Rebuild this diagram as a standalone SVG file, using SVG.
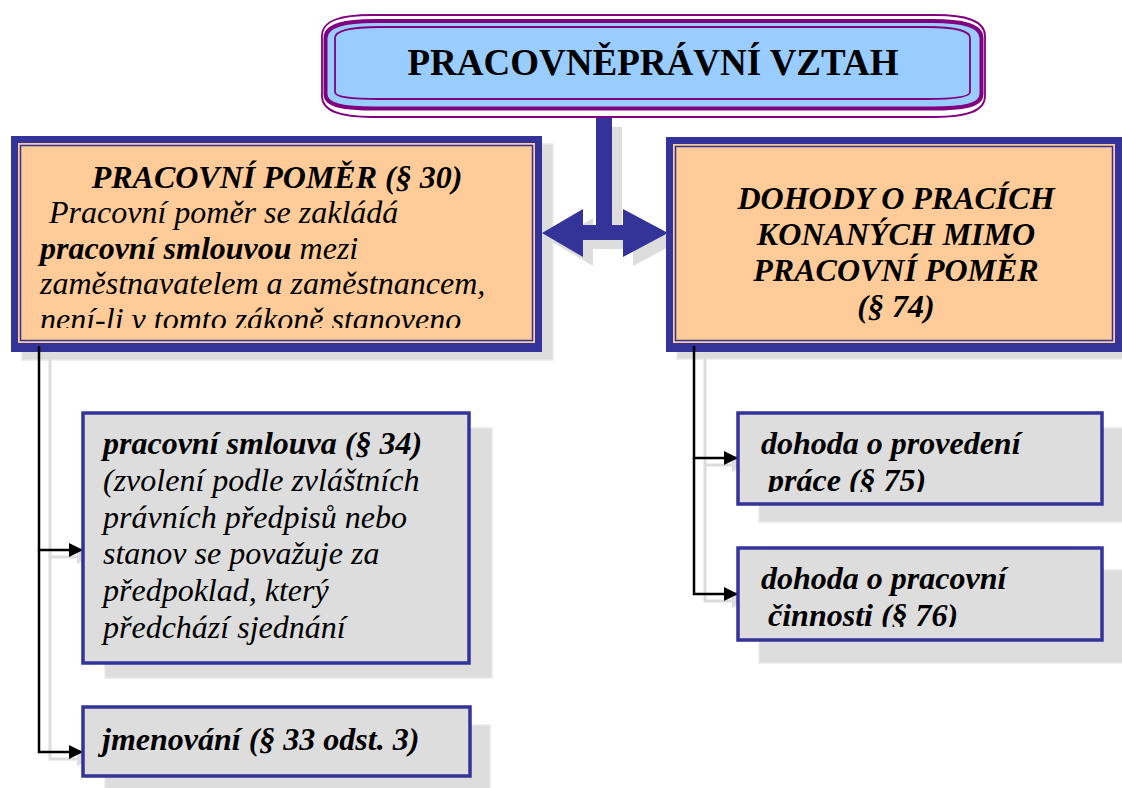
<svg xmlns="http://www.w3.org/2000/svg" width="1122" height="788" viewBox="0 0 1122 788">
<style>
.t{font-family:"Liberation Serif","Times New Roman",serif;font-size:32px;fill:#000}
.title{font-family:"Liberation Serif","Times New Roman",serif;font-size:37px;font-weight:bold;fill:#000}
.bi{font-weight:bold;font-style:italic}
.i{font-style:italic}
.sh{fill:#dddddd;stroke:#e9e9e9;stroke-width:1.5}
.child{fill:#dddddd;stroke:#333399;stroke-width:3.5}
.conn{fill:none;stroke:#000;stroke-width:2.5}
.connsh{fill:none;stroke:#dddddd;stroke-width:3}
</style>
<defs>
<marker id="ah" viewBox="0 0 14 14" refX="14" refY="7" markerWidth="14" markerHeight="14" markerUnits="userSpaceOnUse" orient="auto">
<path d="M0,0 L14,7 L0,14 Z" fill="#000"/>
</marker>
<marker id="ahs" viewBox="0 0 14 14" refX="14" refY="7" markerWidth="14" markerHeight="14" markerUnits="userSpaceOnUse" orient="auto">
<path d="M0,0 L14,7 L0,14 Z" fill="#dddddd"/>
</marker>
<clipPath id="clipL"><rect x="20" y="146" width="512" height="182"/></clipPath>
<clipPath id="clipR1"><rect x="740" y="415" width="360" height="77"/></clipPath>
<clipPath id="clipR2"><rect x="740" y="550" width="360" height="77"/></clipPath>
</defs>

<!-- shadows of main boxes -->
<rect class="sh" x="22" y="144" width="531" height="216"/>
<rect class="sh" x="677" y="145" width="460" height="214"/>

<g id="title">
<path d="M322,36 C322,20 342,15 372,15 L935,15 C965,15 985,20 985,36 L985,96 C985,112 965,117 935,117 L372,117 C342,117 322,112 322,96 Z" fill="#ffffff" stroke="#800080" stroke-width="1.8"/>
<path d="M325.5,38 C325.5,25 345,21 375,21 L932,21 C962,21 981.5,25 981.5,38 L981.5,94 C981.5,106 962,108.5 932,108.5 L375,108.5 C345,108.5 325.5,106 325.5,94 Z" fill="#99ccff" stroke="#800080" stroke-width="4"/>
<path d="M335,38 C335,31 350,27 380,27 L927,27 C955,27 970,31 970,38 L970,92 C970,97 955,99 927,99 L380,99 C350,99 335,97 335,92 Z" fill="#99ccff" stroke="#800080" stroke-width="1.8"/>
<text class="title" x="653" y="75" text-anchor="middle">PRACOVNĚPRÁVNÍ VZTAH</text>
</g>

<g id="double-arrow">
<polygon points="552,242 593,218 593,234 606,234 606,127 622,127 622,234 633,234 633,218 678,242 633,266 633,249 593,249 593,266" fill="#dddddd"/>
<polygon points="542,233 583,209 583,225 596,225 596,118 612,118 612,225 623,225 623,209 668,233 623,257 623,240 583,240 583,257" fill="#333399"/>
</g>

<g id="pracovni-pomer">
<rect x="11" y="136" width="531" height="216" fill="#333399"/>
<rect x="18" y="143" width="517" height="200" fill="#ffcc99"/>
<rect x="20.5" y="145.5" width="512" height="195" fill="#ffcc99" stroke="#333399" stroke-width="1.5"/>
<g clip-path="url(#clipL)">
<text class="t bi" x="277" y="188" text-anchor="middle">PRACOVNÍ POMĚR (§ 30)</text>
<text class="t i" x="49" y="223">Pracovní poměr se zakládá</text>
<text class="t i" x="40" y="259"><tspan font-weight="bold">pracovní smlouvou</tspan> mezi</text>
<text class="t i" x="40" y="294">zaměstnavatelem a zaměstnancem,</text>
<text class="t i" x="40" y="330">není-li v tomto zákoně stanoveno</text>
</g>
</g>

<g id="dohody">
<rect x="666" y="137" width="460" height="215" fill="#333399"/>
<rect x="673" y="144" width="442" height="199" fill="#ffcc99"/>
<rect x="675.5" y="146.5" width="437" height="194" fill="#ffcc99" stroke="#333399" stroke-width="1.5"/>
<text class="t bi" x="896" y="209" text-anchor="middle">DOHODY O PRACÍCH</text>
<text class="t bi" x="896" y="245" text-anchor="middle">KONANÝCH MIMO</text>
<text class="t bi" x="896" y="281" text-anchor="middle">PRACOVNÍ POMĚR</text>
<text class="t bi" x="896" y="317" text-anchor="middle">(§ 74)</text>
</g>

<g id="connectors">
<polyline class="connsh" points="50,353 50,557 91,557" marker-end="url(#ahs)"/>
<polyline class="connsh" points="50,557 50,759 91,759" marker-end="url(#ahs)"/>
<polyline class="connsh" points="705,353 705,465 746,465" marker-end="url(#ahs)"/>
<polyline class="connsh" points="705,465 705,601 746,601" marker-end="url(#ahs)"/>
<polyline class="conn" points="39,346 39,550 83,550" marker-end="url(#ah)"/>
<polyline class="conn" points="39,550 39,752 83,752" marker-end="url(#ah)"/>
<polyline class="conn" points="694,346 694,458 738,458" marker-end="url(#ah)"/>
<polyline class="conn" points="694,458 694,594 738,594" marker-end="url(#ah)"/>
</g>

<g id="pracovni-smlouva">
<rect class="sh" x="105" y="428" width="387" height="250"/>
<rect class="child" x="83" y="413" width="386" height="250"/>
<text class="t bi" x="103" y="454">pracovní smlouva (§ 34)</text>
<text class="t i" x="103" y="491">(zvolení podle zvláštních</text>
<text class="t i" x="103" y="528">právních předpisů nebo</text>
<text class="t i" x="103" y="564">stanov se považuje za</text>
<text class="t i" x="103" y="601">předpoklad, který</text>
<text class="t i" x="103" y="638">předchází sjednání</text>
</g>

<g id="jmenovani">
<rect class="sh" x="105" y="725" width="385" height="80"/>
<rect class="child" x="83" y="707" width="387" height="69"/>
<text class="t bi" x="102" y="750">jmenování (§ 33 odst. 3)</text>
</g>

<g id="dohoda-provedeni">
<rect class="sh" x="759" y="428" width="380" height="94"/>
<rect class="child" x="738" y="413" width="364" height="91"/>
<g clip-path="url(#clipR1)">
<text class="t bi" x="761" y="454">dohoda o provedení</text>
<text class="t bi" x="768" y="491">práce (§ 75)</text>
</g>
</g>

<g id="dohoda-cinnosti">
<rect class="sh" x="759" y="570" width="380" height="93"/>
<rect class="child" x="738" y="548" width="364" height="92"/>
<g clip-path="url(#clipR2)">
<text class="t bi" x="761" y="589">dohoda o pracovní</text>
<text class="t bi" x="768" y="626">činnosti (§ 76)</text>
</g>
</g>
</svg>
